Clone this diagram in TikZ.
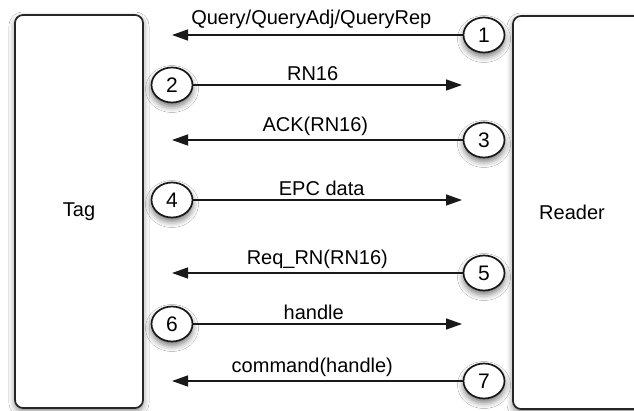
\documentclass[tikz,border=0pt]{standalone}
\usepackage{fontspec}
\setmainfont{Liberation Sans}
\usetikzlibrary{arrows.meta,shadows.blur,shapes.geometric}
\begin{document}
\begin{tikzpicture}[x=1pt,y=-1pt,
  font=\fontsize{20}{24}\selectfont,
  party/.style={draw=black!85, line width=1.7pt, rounded corners=8pt, fill=white,
    blur shadow={shadow xshift=0pt, shadow yshift=-3pt, shadow blur radius=6pt, shadow opacity=50}},
  stepnum/.style={ellipse, draw=black!90, line width=1.7pt, fill=white,
    minimum width=41pt, minimum height=35pt, inner sep=0pt,
    font=\fontsize{21}{24}\selectfont,
    blur shadow={shadow xshift=0pt, shadow yshift=-4pt, shadow blur radius=6pt, shadow opacity=55}},
  msg/.style={draw=black!90, line width=1.4pt, -{Triangle[length=16pt,width=11pt]}},
  msglabel/.style={midway, above=3pt, inner sep=1pt}]
  % canvas
  \fill[white] (0,0) rectangle (634,411);
  \useasboundingbox (0,0) rectangle (634,411);
  \clip (0,0) rectangle (634,411);

  % the two parties
  \draw[party] (15,15) rectangle (143,408);
  \draw[party] (513,16) rectangle (650,409);
  \node (tag) at (79,212) {Tag};
  \node (reader) at (572,212) {Reader};

  % numbered steps, alternating between reader side and tag side
  \node[stepnum] (s1) at (484,35)  {1};
  \node[stepnum] (s2) at (172,85)  {2};
  \node[stepnum] (s3) at (484,140) {3};
  \node[stepnum] (s4) at (172,200) {4};
  \node[stepnum] (s5) at (484,273) {5};
  \node[stepnum] (s6) at (172,324) {6};
  \node[stepnum] (s7) at (484,381) {7};

  % arrow ends
  \coordinate (e1) at (172,35);
  \coordinate (e2) at (462,85);
  \coordinate (e3) at (172,140);
  \coordinate (e4) at (462,200);
  \coordinate (e5) at (172,273);
  \coordinate (e6) at (462,324);
  \coordinate (e7) at (172,381);

  % messages
  \draw[msg] (s1.west) -- (e1) node[msglabel, above=2pt, xshift=-6pt] {Query/QueryAdj/QueryRep};
  \draw[msg] (s2.east) -- (e2) node[msglabel, xshift=-15pt] {RN16};
  \draw[msg] (s3.west) -- (e3) node[msglabel, xshift=-2pt] {ACK(RN16)};
  \draw[msg] (s4.east) -- (e4) node[msglabel, xshift=-6pt] {EPC data};
  \draw[msg] (s5.west) -- (e5) node[msglabel] {Req\_RN(RN16)};
  \draw[msg] (s6.east) -- (e6) node[msglabel, xshift=-14pt] {handle};
  \draw[msg] (s7.west) -- (e7) node[msglabel, xshift=-5pt] {command(handle)};
\end{tikzpicture}
\end{document}
